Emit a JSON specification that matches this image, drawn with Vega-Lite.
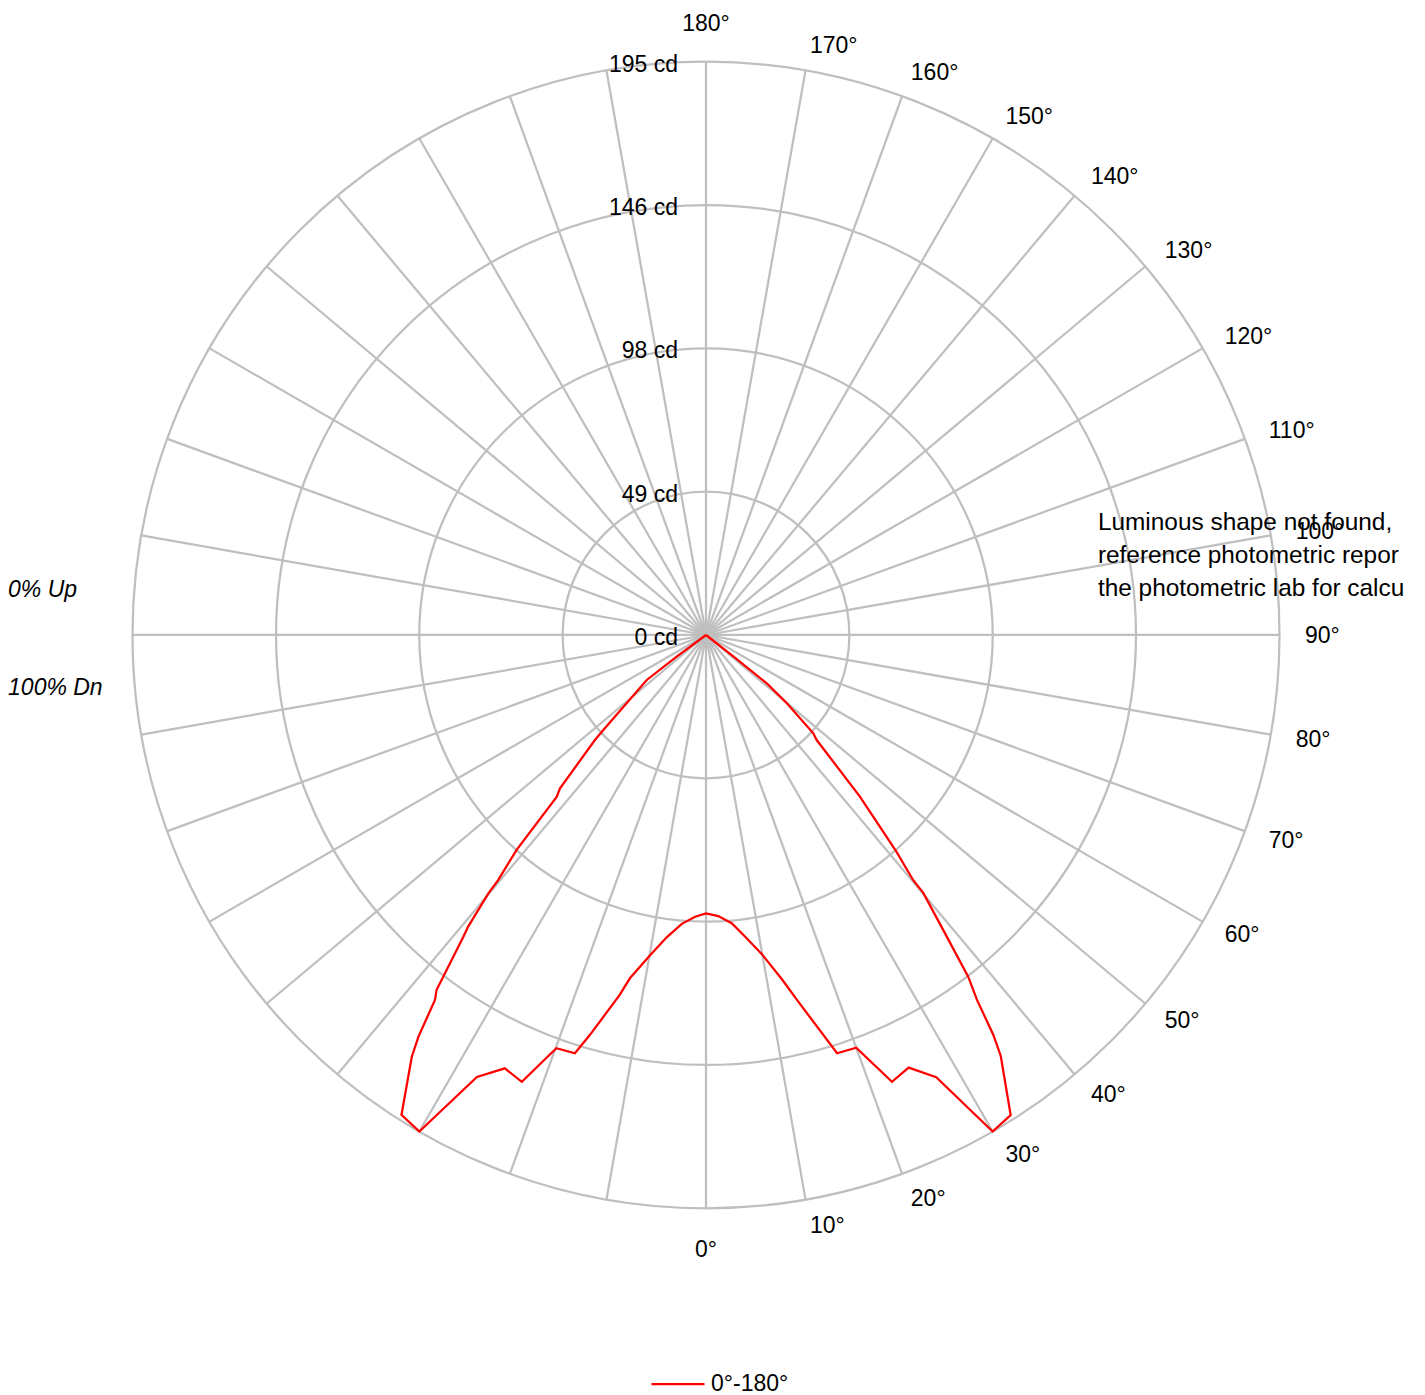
{
  "$schema": "https://vega.github.io/schema/vega-lite/v6.json",
  "width": 1425,
  "height": 1395,
  "autosize": {"type": "none"},
  "padding": 0,
  "background": "white",
  "config": {
    "view": {"stroke": null},
    "font": "Liberation Sans",
    "text": {"font": "Liberation Sans", "fontSize": 23, "color": "#000000"}
  },
  "datasets": {
    "rings": [{"r": 48.75, "z": 0}, {"r": 97.5, "z": 0}, {"r": 146.25, "z": 0}, {"r": 195, "z": 0}],
    "ringLabels": [
      {"r": 0, "z": 0, "label": "0 cd"},
      {"r": 48.75, "z": 0, "label": "49 cd"},
      {"r": 97.5, "z": 0, "label": "98 cd"},
      {"r": 146.25, "z": 0, "label": "146 cd"},
      {"r": 195, "z": 0, "label": "195 cd"}
    ],
    "spokes": [
      {"a": 0}, {"a": 10}, {"a": 20}, {"a": 30}, {"a": 40}, {"a": 50}, {"a": 60}, {"a": 70}, {"a": 80},
      {"a": 90}, {"a": 100}, {"a": 110}, {"a": 120}, {"a": 130}, {"a": 140}, {"a": 150}, {"a": 160}, {"a": 170},
      {"a": 180}, {"a": 190}, {"a": 200}, {"a": 210}, {"a": 220}, {"a": 230}, {"a": 240}, {"a": 250}, {"a": 260},
      {"a": 270}, {"a": 280}, {"a": 290}, {"a": 300}, {"a": 310}, {"a": 320}, {"a": 330}, {"a": 340}, {"a": 350}
    ],
    "curve": [
      {"g": -90, "cd": 0},
      {"g": -53.5, "cd": 12.4},
      {"g": -52.8, "cd": 25.3},
      {"g": -47.2, "cd": 47.6},
      {"g": -46.6, "cd": 52},
      {"g": -43.6, "cd": 72},
      {"g": -42.7, "cd": 74.9},
      {"g": -41.4, "cd": 97.4},
      {"g": -40.3, "cd": 109.3},
      {"g": -40.1, "cd": 114.9},
      {"g": -39.2, "cd": 128},
      {"g": -38.8, "cd": 131.7},
      {"g": -37.2, "cd": 151.6},
      {"g": -36.6, "cd": 154.6},
      {"g": -35.6, "cd": 168},
      {"g": -34.9, "cd": 174.9},
      {"g": -32.4, "cd": 193.3},
      {"g": -30, "cd": 195},
      {"g": -27.4, "cd": 169.3},
      {"g": -24.9, "cd": 162.5},
      {"g": -22.4, "cd": 164.4},
      {"g": -19.9, "cd": 149.5},
      {"g": -17.4, "cd": 149.1},
      {"g": -16.2, "cd": 141.7},
      {"g": -13.5, "cd": 126},
      {"g": -12.5, "cd": 119.6},
      {"g": -10, "cd": 110.9},
      {"g": -7.4, "cd": 103.7},
      {"g": -4.8, "cd": 98.6},
      {"g": -2.2, "cd": 95.9},
      {"g": 0, "cd": 94.7},
      {"g": 2.5, "cd": 95.7},
      {"g": 5.1, "cd": 98.4},
      {"g": 7.4, "cd": 103.5},
      {"g": 9.9, "cd": 110.1},
      {"g": 12.5, "cd": 120.2},
      {"g": 14, "cd": 127.9},
      {"g": 17.4, "cd": 149.1},
      {"g": 20, "cd": 149.4},
      {"g": 22.6, "cd": 164.6},
      {"g": 25.1, "cd": 162.5},
      {"g": 27.5, "cd": 169.6},
      {"g": 30, "cd": 195},
      {"g": 32.4, "cd": 193.4},
      {"g": 35, "cd": 174.8},
      {"g": 35.7, "cd": 167.5},
      {"g": 36.6, "cd": 154.6},
      {"g": 37.5, "cd": 146.5},
      {"g": 38.8, "cd": 128.8},
      {"g": 40.1, "cd": 114.8},
      {"g": 40.2, "cd": 109.2},
      {"g": 41.3, "cd": 98.2},
      {"g": 43.6, "cd": 76},
      {"g": 46.5, "cd": 51.9},
      {"g": 47.5, "cd": 49.5},
      {"g": 49.8, "cd": 36},
      {"g": 51.5, "cd": 26.4},
      {"g": 52, "cd": 11.9},
      {"g": 90, "cd": 0}
    ]
  },
  "layer": [
    {
      "data": {"name": "rings"},
      "mark": {"type": "arc", "filled": false, "stroke": "#BFBFBF", "strokeWidth": 2.25, "theta": 0, "theta2": 6.2832},
      "encoding": {
        "x": {"field": "z", "type": "quantitative", "scale": {"domain": [-240.136, 244.558], "zero": false, "nice": false}, "axis": null},
        "y": {"field": "z", "type": "quantitative", "scale": {"domain": [-258.503, 215.986], "zero": false, "nice": false}, "axis": null},
        "radius": {"field": "r", "type": "quantitative", "stack": null, "scale": {"type": "linear", "domain": [0, 195], "range": [0, 573.3], "zero": true, "nice": false}, "legend": null}
      }
    },
    {
      "data": {"name": "spokes"},
      "transform": [
        {"calculate": "195*sin(datum.a*PI/180)", "as": "sx"},
        {"calculate": "-195*cos(datum.a*PI/180)", "as": "sy"},
        {"calculate": "0", "as": "z"}
      ],
      "mark": {"type": "rule", "stroke": "#BFBFBF", "strokeWidth": 2.25},
      "encoding": {
        "x": {"field": "z", "type": "quantitative", "scale": {"domain": [-240.136, 244.558], "zero": false, "nice": false}, "axis": null},
        "y": {"field": "z", "type": "quantitative", "scale": {"domain": [-258.503, 215.986], "zero": false, "nice": false}, "axis": null},
        "x2": {"field": "sx"},
        "y2": {"field": "sy"}
      }
    },
    {
      "data": {"name": "ringLabels"},
      "mark": {"type": "text", "align": "right", "baseline": "middle", "dx": -28, "dy": 3},
      "encoding": {
        "x": {"field": "z", "type": "quantitative", "scale": {"domain": [-240.136, 244.558], "zero": false, "nice": false}, "axis": null},
        "y": {"field": "r", "type": "quantitative", "scale": {"domain": [-258.503, 215.986], "zero": false, "nice": false}, "axis": null},
        "text": {"field": "label", "type": "nominal"}
      }
    },
    {
      "data": {"name": "spokes"},
      "transform": [
        {"filter": "datum.a >= 10 && datum.a <= 170"},
        {"calculate": "203.7*sin(datum.a*PI/180)", "as": "lx"},
        {"calculate": "-203.7*cos(datum.a*PI/180)", "as": "ly"},
        {"calculate": "datum.a + '°'", "as": "label"}
      ],
      "mark": {"type": "text", "align": "left", "baseline": "middle", "dy": 1},
      "encoding": {
        "x": {"field": "lx", "type": "quantitative", "scale": {"domain": [-240.136, 244.558], "zero": false, "nice": false}, "axis": null},
        "y": {"field": "ly", "type": "quantitative", "scale": {"domain": [-258.503, 215.986], "zero": false, "nice": false}, "axis": null},
        "text": {"field": "label", "type": "nominal"}
      }
    },
    {
      "data": {"name": "spokes"},
      "transform": [
        {"filter": "datum.a == 0 || datum.a == 180"},
        {"calculate": "208.5*sin(datum.a*PI/180)", "as": "lx"},
        {"calculate": "-208.5*cos(datum.a*PI/180)", "as": "ly"},
        {"calculate": "datum.a + '°'", "as": "label"}
      ],
      "mark": {"type": "text", "align": "center", "baseline": "middle", "dy": 2},
      "encoding": {
        "x": {"field": "lx", "type": "quantitative", "scale": {"domain": [-240.136, 244.558], "zero": false, "nice": false}, "axis": null},
        "y": {"field": "ly", "type": "quantitative", "scale": {"domain": [-258.503, 215.986], "zero": false, "nice": false}, "axis": null},
        "text": {"field": "label", "type": "nominal"}
      }
    },
    {
      "data": {"values": [{"label": "0% Up", "tx": -237.4, "ty": 15.6}, {"label": "100% Dn", "tx": -237.4, "ty": -17.7}]},
      "mark": {"type": "text", "align": "left", "baseline": "middle", "fontStyle": "italic", "dy": 1},
      "encoding": {
        "x": {"field": "tx", "type": "quantitative", "scale": {"domain": [-240.136, 244.558], "zero": false, "nice": false}, "axis": null},
        "y": {"field": "ty", "type": "quantitative", "scale": {"domain": [-258.503, 215.986], "zero": false, "nice": false}, "axis": null},
        "text": {"field": "label", "type": "nominal"}
      }
    },
    {
      "data": {"values": [{"tx": 133.3, "ty": 38.1}]},
      "mark": {
        "type": "text",
        "align": "left",
        "baseline": "middle",
        "fontSize": 24.4,
        "lineHeight": 33,
        "text": ["Luminous shape not found,", "reference photometric repor", "the photometric lab for calcu"]
      },
      "encoding": {
        "x": {"field": "tx", "type": "quantitative", "scale": {"domain": [-240.136, 244.558], "zero": false, "nice": false}, "axis": null},
        "y": {"field": "ty", "type": "quantitative", "scale": {"domain": [-258.503, 215.986], "zero": false, "nice": false}, "axis": null}
      }
    },
    {
      "data": {"name": "curve"},
      "transform": [
        {"calculate": "datum.cd*sin(datum.g*PI/180)", "as": "px"},
        {"calculate": "-datum.cd*cos(datum.g*PI/180)", "as": "py"},
        {"calculate": "'0°-180°'", "as": "series"}
      ],
      "mark": {"type": "line", "strokeWidth": 2.25, "interpolate": "linear"},
      "encoding": {
        "x": {"field": "px", "type": "quantitative", "scale": {"domain": [-240.136, 244.558], "zero": false, "nice": false}, "axis": null},
        "y": {"field": "py", "type": "quantitative", "scale": {"domain": [-258.503, 215.986], "zero": false, "nice": false}, "axis": null},
        "order": {"field": "g", "type": "quantitative"},
        "stroke": {
          "field": "series",
          "type": "nominal",
          "scale": {"range": ["#FF0000"]},
          "legend": {
            "orient": "none",
            "legendX": 650,
            "legendY": 1356,
            "title": null,
            "padding": 0,
            "symbolType": "stroke",
            "symbolSize": 2809,
            "symbolStrokeWidth": 2.25,
            "labelFont": "Liberation Sans",
            "labelFontSize": 23,
            "labelColor": "#000000",
            "labelOffset": 5
          }
        }
      }
    }
  ]
}
